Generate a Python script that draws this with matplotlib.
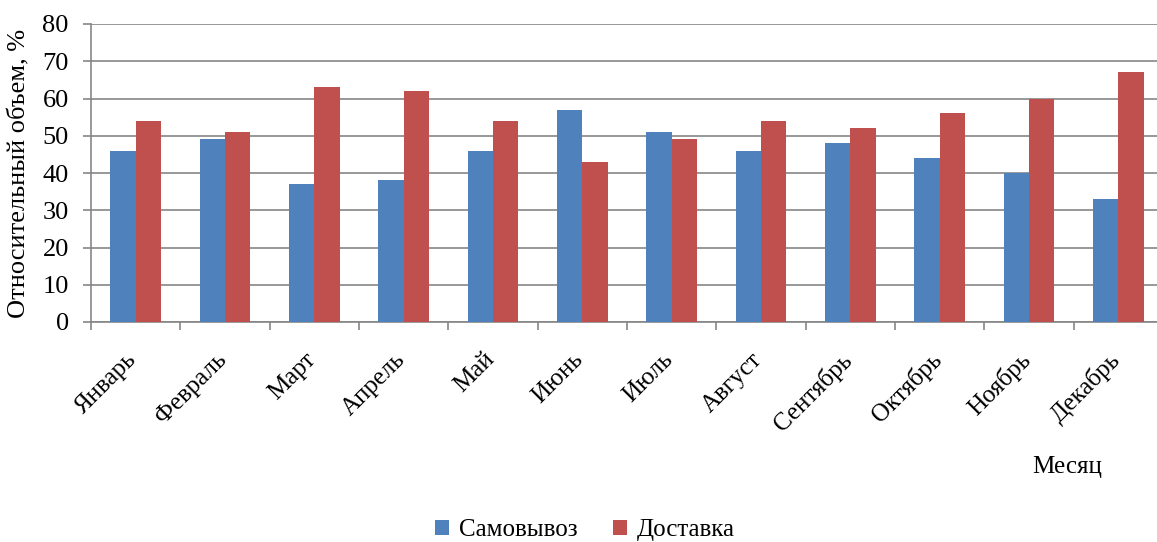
import matplotlib
matplotlib.use("Agg")
import matplotlib.pyplot as plt
import matplotlib.transforms as mtransforms
import numpy as np

months = ["Январь", "Февраль", "Март", "Апрель", "Май", "Июнь", "Июль",
          "Август", "Сентябрь", "Октябрь", "Ноябрь", "Декабрь"]
samovyvoz = [46, 49, 37, 38, 46, 57, 51, 46, 48, 44, 40, 33]
dostavka = [54, 51, 63, 62, 54, 43, 49, 54, 52, 56, 60, 67]
yticks = [0, 10, 20, 30, 40, 50, 60, 70, 80]

plt.rcParams['font.family'] = ['Liberation Serif', 'DejaVu Serif']

fig = plt.figure(figsize=(11.57, 5.42), dpi=100)
ax = fig.add_axes([91/1157, 1 - 322/542, 1072/1157, (322 - 24)/542])

x = np.arange(len(months))
w = 0.285
ax.bar(x - w/2, samovyvoz, width=w, color='#4F81BD', label='Самовывоз', zorder=3)
ax.bar(x + w/2, dostavka, width=w, color='#C0504D', label='Доставка', zorder=3)

ax.set_xlim(-0.5, len(months) - 0.5)
ax.set_ylim(0, 80)
ax.set_yticks(yticks)
ax.yaxis.grid(True, color='#868686', linewidth=1.2, zorder=0)
ax.set_axisbelow(True)
for s in ['top', 'right']:
    ax.spines[s].set_visible(False)
for s in ['left', 'bottom']:
    ax.spines[s].set_color('#868686')
    ax.spines[s].set_linewidth(1.2)

ax.tick_params(axis='y', labelsize=19, length=6, color='#868686', width=1.2, pad=10)
ax.set_xticks(np.arange(len(months) + 1) - 0.5, minor=True)
ax.set_xticks(x)
ax.tick_params(axis='x', which='major', length=0, labelsize=18, pad=19)
ax.tick_params(axis='x', which='minor', length=6, color='#868686', width=1.2)
ax.set_xticklabels(months, rotation=45, ha='right', va='top', rotation_mode='anchor')
offset = mtransforms.ScaledTranslation(-10/100, 0, fig.dpi_scale_trans)
for lbl in ax.get_xticklabels():
    lbl.set_transform(lbl.get_transform() + offset)

ax.set_ylabel('Относительный объем, %', fontsize=19)
ax.yaxis.set_label_coords(-61/1072, 0.5)
fig.text(1067/1157, 1 - 467/542, 'Месяц', fontsize=18, ha='center', va='center')

fig.legend(loc='center', bbox_to_anchor=(585/1157, 1 - 530/542), ncol=2, frameon=False,
           fontsize=18, handlelength=0.55, handleheight=0.55, handletextpad=0.4,
           columnspacing=1.4)

fig.savefig('out.png', dpi=100)
